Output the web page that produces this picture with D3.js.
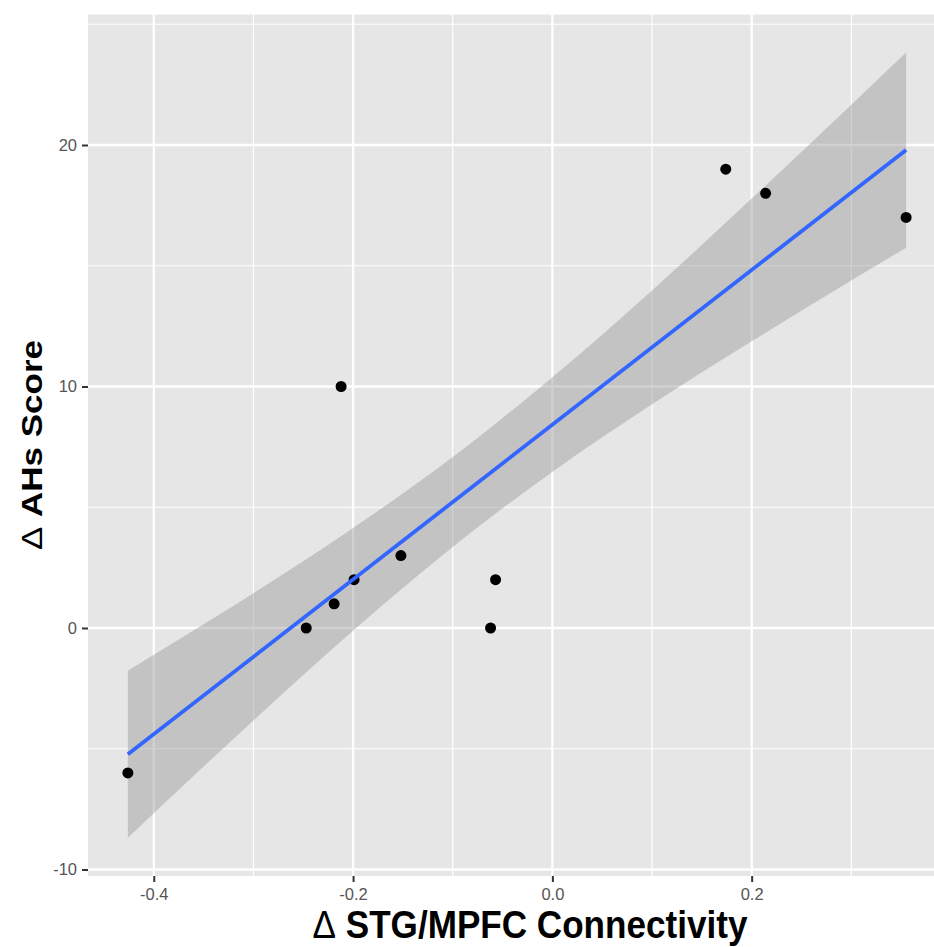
<!DOCTYPE html>
<html>
<head>
<meta charset="utf-8">
<script src="https://cdn.jsdelivr.net/npm/d3@7"></script>
<style>
  body { margin: 0; background: #fff; }
  svg { display: block; }
</style>
</head>
<body>
<script>
// points
const connectivity = [-0.426, -0.247, -0.219, -0.199, -0.152, -0.212, -0.062, -0.057, 0.174, 0.214, 0.355];
const ahsScore = [-6, 0, 1, 2, 3, 10, 0, 2, 19, 18, 17];

// fitted line and its grey confidence band
const fitX = [-0.426, 0.355];
const fitY = [-5.23, 19.79];
const bandX = [-0.426, -0.35, -0.3, -0.2, -0.1, -0.0755, 0, 0.1, 0.2, 0.3, 0.355];
const bandLow = [-8.69, -5.74, -3.83, -0.11, 3.35, 4.15, 6.46, 9.26, 11.87, 14.39, 15.75];
const bandHigh = [-1.77, 0.15, 1.44, 4.14, 7.08, 7.86, 10.38, 13.98, 17.78, 21.67, 23.83];

// ticks and grid
const xTicks = [-0.4, -0.2, 0, 0.2];
const xMinor = [-0.3, -0.1, 0.1, 0.3];
const yTicks = [-10, 0, 10, 20];
const yMinor = [-5, 5, 15, 25];

const W = 934, H = 947;
const panel = { left: 88, right: 941, top: 14.6, bottom: 876 };
const font = "Liberation Sans, Arial, sans-serif";

const svg = d3.select("body").append("svg")
  .attr("width", W)
  .attr("height", H);

const x = d3.scaleLinear().domain([-0.466, 0.39]).range([panel.left, panel.right]);
const y = d3.scaleLinear().domain([-10.27, 25.4]).range([panel.bottom, panel.top]);

// panel background
svg.append("rect")
  .attr("x", panel.left).attr("y", panel.top)
  .attr("width", panel.right - panel.left)
  .attr("height", panel.bottom - panel.top)
  .attr("fill", "#E6E6E6");

const grid = svg.append("g");
// minor grid
grid.selectAll(".xmin").data(xMinor).enter().append("line")
  .attr("x1", d => x(d)).attr("x2", d => x(d))
  .attr("y1", panel.top).attr("y2", panel.bottom)
  .attr("stroke", "#fff").attr("stroke-width", 1.2);
grid.selectAll(".ymin").data(yMinor).enter().append("line")
  .attr("x1", panel.left).attr("x2", panel.right)
  .attr("y1", d => y(d)).attr("y2", d => y(d))
  .attr("stroke", "#fff").attr("stroke-width", 1.2);
// major grid
grid.selectAll(".xmaj").data(xTicks).enter().append("line")
  .attr("x1", d => x(d)).attr("x2", d => x(d))
  .attr("y1", panel.top).attr("y2", panel.bottom)
  .attr("stroke", "#fff").attr("stroke-width", 2.3);
grid.selectAll(".ymaj").data(yTicks).enter().append("line")
  .attr("x1", panel.left).attr("x2", panel.right)
  .attr("y1", d => y(d)).attr("y2", d => y(d))
  .attr("stroke", "#fff").attr("stroke-width", 2.3);

// confidence band
const bandData = bandX.map((d, i) => ({ x: d, lo: bandLow[i], hi: bandHigh[i] }));
svg.append("path")
  .datum(bandData)
  .attr("fill", "#999999")
  .attr("fill-opacity", 0.45)
  .attr("d", d3.area()
    .x(d => x(d.x))
    .y0(d => y(d.lo))
    .y1(d => y(d.hi))
    .curve(d3.curveMonotoneX));

// points
svg.append("g").selectAll("circle")
  .data(connectivity.map((d, i) => [d, ahsScore[i]]))
  .enter().append("circle")
  .attr("cx", d => x(d[0]))
  .attr("cy", d => y(d[1]))
  .attr("r", 5.5)
  .attr("fill", "#000");

// regression line
svg.append("path")
  .datum(fitX.map((d, i) => [d, fitY[i]]))
  .attr("fill", "none")
  .attr("stroke", "#3366FF")
  .attr("stroke-width", 3.8)
  .attr("d", d3.line().x(d => x(d[0])).y(d => y(d[1])));

// axes
const xAxis = svg.append("g")
  .attr("transform", `translate(0,${panel.bottom})`)
  .call(d3.axisBottom(x).tickValues(xTicks).tickSize(6).tickPadding(6)
    .tickFormat(d => d.toFixed(1)));
const yAxis = svg.append("g")
  .attr("transform", `translate(${panel.left},0)`)
  .call(d3.axisLeft(y).tickValues(yTicks).tickSize(6).tickPadding(5)
    .tickFormat(d => String(d)));

[xAxis, yAxis].forEach(a => {
  a.select(".domain").remove();
  a.selectAll(".tick line").attr("stroke", "#333").attr("stroke-width", 2);
  a.selectAll(".tick text")
    .attr("fill", "#555")
    .attr("font-family", font)
    .attr("font-size", 16.5);
});

// axis titles
const xTitle = svg.append("text")
  .attr("transform", "translate(530,938) scale(0.9,1)")
  .attr("text-anchor", "middle")
  .attr("font-family", font)
  .attr("font-weight", "bold")
  .attr("font-size", 39)
  .attr("fill", "#000");
xTitle.append("tspan").attr("font-weight", "normal").text("Δ");
xTitle.append("tspan").text(" STG/MPFC Connectivity");

const yTitle = svg.append("text")
  .attr("transform", "translate(42,445) scale(0.83,1) rotate(-90)")
  .attr("text-anchor", "middle")
  .attr("font-family", font)
  .attr("font-weight", "bold")
  .attr("font-size", 35)
  .attr("fill", "#000");
yTitle.append("tspan").attr("font-weight", "normal").text("Δ");
yTitle.append("tspan").text(" AHs Score");
</script>
</body>
</html>
